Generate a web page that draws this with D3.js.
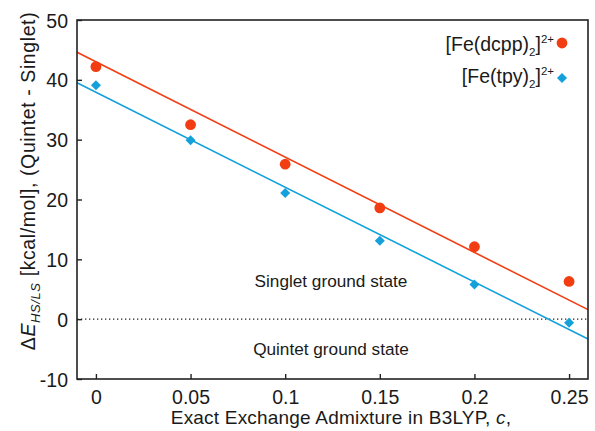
<!DOCTYPE html>
<html><head><meta charset="utf-8">
<script src="https://cdn.jsdelivr.net/npm/d3@7"></script>
<style>
html,body{margin:0;padding:0;background:#fff;}
svg text{font-family:"Liberation Sans",Arial,Helvetica,sans-serif;fill:#1a1a1a;}
</style></head>
<body><svg id="chart" width="595" height="431"></svg>
<script>
// ---- data ----
const xValues = [0, 0.05, 0.10, 0.15, 0.20, 0.25];
const dcppValues = [42.2, 32.5, 25.9, 18.6, 12.1, 6.3];
const tpyValues = [39.1, 29.9, 21.1, 13.1, 5.8, -0.6];
const fitX = [-0.01, 0.26];
const dcppFit = [44.6, 1.6];
const tpyFit = [39.5, -3.3];
const xTicks = [0, 0.05, 0.1, 0.15, 0.2, 0.25];
const xTickLabels = ["0", "0.05", "0.1", "0.15", "0.2", "0.25"];
const yTicks = [-10, 0, 10, 20, 30, 40, 50];
const yTickLabels = ["-10", "0", "10", "20", "30", "40", "50"];
const seriesNames = ["[Fe(dcpp)", "[Fe(tpy)"];

const red = "#f23d12", blue = "#14a0db";
const svg = d3.select("#chart");
const m = {l: 77, r: 588, t: 20, b: 379};
const x = d3.scaleLinear().domain([-0.01, 0.26]).range([m.l, m.r]);
const y = d3.scaleLinear().domain([-10, 50]).range([m.b, m.t]);

// zero line
svg.append("line").attr("x1", m.l).attr("x2", m.r).attr("y1", y(0)).attr("y2", y(0))
  .attr("stroke", "#222").attr("stroke-width", 1.3).attr("stroke-dasharray", "1.3,2.7");

// fit lines
const line = d3.line().x(d => x(d[0])).y(d => y(d[1]));
svg.append("path").attr("d", line(fitX.map((v, i) => [v, dcppFit[i]])))
  .attr("stroke", red).attr("stroke-width", 1.6).attr("fill", "none");
svg.append("path").attr("d", line(fitX.map((v, i) => [v, tpyFit[i]])))
  .attr("stroke", blue).attr("stroke-width", 1.6).attr("fill", "none");

// points
svg.selectAll(".c").data(xValues).enter().append("circle")
  .attr("cx", d => x(d)).attr("cy", (d, i) => y(dcppValues[i])).attr("r", 5.4).attr("fill", red);
const diamond = d3.symbol().type(d3.symbolDiamond2).size(64);
svg.selectAll(".d").data(xValues).enter().append("path")
  .attr("d", diamond)
  .attr("transform", (d, i) => `translate(${x(d)},${y(tpyValues[i])})`).attr("fill", blue);

// axes
const xAxis = d3.axisBottom(x).tickValues(xTicks).tickFormat((d, i) => xTickLabels[i])
  .tickSizeInner(-5).tickSizeOuter(0).tickPadding(14);
const gx = svg.append("g").attr("transform", `translate(0,${m.b})`).call(xAxis);
const yAxis = d3.axisLeft(y).tickValues(yTicks).tickFormat((d, i) => yTickLabels[i])
  .tickSizeInner(-5).tickSizeOuter(0).tickPadding(9);
const gy = svg.append("g").attr("transform", `translate(${m.l},0)`).call(yAxis);
[gx, gy].forEach(g => {
  g.select(".domain").remove();
  g.selectAll(".tick line").attr("stroke", "#222").attr("stroke-width", 1.4);
  g.selectAll(".tick text").attr("font-size", 19.5).attr("fill", "#1a1a1a")
    .style("font-family", "'Liberation Sans',Arial,sans-serif");
});
gx.selectAll(".tick text").attr("dy", 0).attr("y", 25);
gy.selectAll(".tick text").attr("dy", "0.36em");

// frame
svg.append("rect").attr("x", m.l).attr("y", m.t).attr("width", m.r - m.l).attr("height", m.b - m.t)
  .attr("fill", "none").attr("stroke", "#222").attr("stroke-width", 1.6);

// annotations
svg.append("text").attr("x", 331).attr("y", 287).attr("text-anchor", "middle")
  .attr("font-size", 17.2).text("Singlet ground state");
svg.append("text").attr("x", 331).attr("y", 355).attr("text-anchor", "middle")
  .attr("font-size", 17.2).text("Quintet ground state");

// legend
const legY = [51, 83];
seriesNames.forEach((n, i) => {
  const t = svg.append("text").attr("x", 554).attr("y", legY[i]).attr("text-anchor", "end")
    .attr("font-size", 19.5);
  t.append("tspan").text(n);
  t.append("tspan").attr("font-size", 11.5).attr("dy", 5).text("2");
  t.append("tspan").attr("dy", -5).text("]");
  t.append("tspan").attr("font-size", 11.5).attr("dy", -8).text("2+");
});
svg.append("circle").attr("cx", 562).attr("cy", 43).attr("r", 5.4).attr("fill", red);
svg.append("path").attr("d", diamond).attr("transform", "translate(562,78)").attr("fill", blue);

// axis labels
const xl = svg.append("text").attr("x", 341).attr("y", 424).attr("text-anchor", "middle")
  .attr("font-size", 19).attr("letter-spacing", 0.2);
xl.append("tspan").text("Exact Exchange Admixture in B3LYP, ");
xl.append("tspan").attr("font-style", "italic").text("c");
xl.append("tspan").text(",");

const yl = svg.append("text").attr("transform", "translate(35,181) rotate(-90)")
  .attr("text-anchor", "middle").attr("font-size", 19.5).attr("letter-spacing", 0.6);
yl.append("tspan").text("Δ");
yl.append("tspan").attr("font-style", "italic").text("E");
yl.append("tspan").attr("font-style", "italic").attr("font-size", 13).attr("dy", 5).text("HS/LS");
yl.append("tspan").attr("dy", -5).text(" [kcal/mol], (Quintet - Singlet)");
</script></body></html>
